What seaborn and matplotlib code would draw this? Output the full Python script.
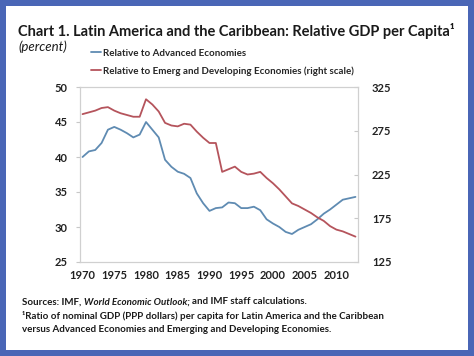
import numpy as np
import pandas as pd
import matplotlib
matplotlib.use("Agg")
import matplotlib.pyplot as plt
from matplotlib.patches import Rectangle
from matplotlib.lines import Line2D
from matplotlib.transforms import offset_copy
import seaborn as sns

sns.set_style("white")
plt.rcParams['font.family'] = ['Lato', 'DejaVu Sans']

years = list(range(1970, 2014))

# relative to advanced economies (left scale, percent)
adv = [40.0, 40.8, 41.0, 42.0, 43.9, 44.3, 43.9, 43.4, 42.8, 43.2,
       45.0, 43.9, 42.8, 39.6, 38.6, 37.9, 37.6, 37.0, 34.8, 33.4,
       32.3, 32.7, 32.8, 33.5, 33.4, 32.7, 32.7, 32.9, 32.4, 31.1,
       30.5, 30.0, 29.3, 29.0, 29.6, 30.0, 30.4, 31.1, 31.9, 32.5,
       33.2, 33.9, 34.1, 34.3]

# relative to emerging and developing economies (right scale, percent)
emdev = [294, 296, 298, 301, 302, 298, 295, 293, 291, 291,
         311, 305, 297, 284, 281, 280, 283, 282, 274, 267,
         261, 261, 228, 231, 234, 228, 225, 226, 228, 221,
         215, 208, 200, 192, 189, 185, 181, 176, 172, 166,
         162, 160, 157, 154]

left_ticks = [25, 30, 35, 40, 45, 50]
right_ticks = [125, 175, 225, 275, 325]
x_ticks = [1970, 1975, 1980, 1985, 1990, 1995, 2000, 2005, 2010]

df = pd.DataFrame({'year': years, 'adv': adv, 'emdev': emdev})

blue = '#5f8bb2'
red = '#b5545c'

fig = plt.figure(figsize=(4.74, 3.56), dpi=100)
fig.patch.set_facecolor('#4a66b6')
fig.add_artist(Rectangle((6 / 474, 6 / 356), 462 / 474, 344 / 356,
                         transform=fig.transFigure, facecolor='white',
                         edgecolor='none', zorder=-5))

ax = fig.add_axes([80 / 474, 94 / 356, 278 / 474, 175 / 356])
ax2 = ax.twinx()

sns.lineplot(data=df, x='year', y='adv', ax=ax, color=blue, linewidth=1.3)
sns.lineplot(data=df, x='year', y='emdev', ax=ax2, color=red, linewidth=1.3)

ax.set_xlim(1969.6, 2013.4)
ax.set_ylim(25, 50)
ax2.set_ylim(125, 325)
ax.set_yticks(left_ticks)
ax2.set_yticks(right_ticks)
ax.set_xticks(x_ticks)
ax.set_xticks(years, minor=True)
ax.set_xlabel('')
ax.set_ylabel('')
ax2.set_ylabel('')

for a in (ax, ax2):
    for s in a.spines.values():
        s.set_color('#d0d0d0')
        s.set_linewidth(0.8)

ax.tick_params(axis='x', which='both', direction='in', length=3,
               color='#c8c8c8', pad=6)
ax.tick_params(axis='y', direction='out', length=3, color='#c8c8c8', pad=6)
ax2.tick_params(axis='y', direction='in', length=3, color='#c8c8c8', pad=10)
for lab in ax.get_xticklabels() + ax.get_yticklabels() + ax2.get_yticklabels():
    lab.set_fontsize(8)
    lab.set_fontweight('bold')
    lab.set_color('#222222')

# title
fig.text(18 / 474, 1 - 31 / 356,
         'Chart 1. Latin America and the Caribbean: Relative GDP per Capita\u00b9',
         fontsize=10.5, fontweight='bold', va='center', ha='left', color='#1a1a1a')
fig.text(18 / 474, 1 - 47 / 356, '(percent)', fontsize=9.5, style='italic',
         va='center', ha='left', color='#1a1a1a')

# legend
handles = [Line2D([], [], color=blue, linewidth=1.3),
           Line2D([], [], color=red, linewidth=1.3)]
labels = ['Relative to Advanced Economies',
          'Relative to Emerg and Developing Economies (right scale)']
fig.legend(handles, labels, loc='upper left',
           bbox_to_anchor=(86 / 474, 1 - 44 / 356), frameon=False,
           handlelength=1.0, handletextpad=0.25, labelspacing=0.85,
           borderpad=0, prop={'size': 7, 'weight': 'bold'})

# footnotes
foot = dict(fontsize=7, fontweight='bold', ha='left', va='center', color='#1a1a1a')
renderer = fig.canvas.get_renderer()
x0 = 22 / 474
y0 = 1 - 302 / 356
t1 = fig.text(x0, y0, 'Sources: IMF, ', **foot)
w1 = t1.get_window_extent(renderer).width
t2 = fig.text(x0, y0, 'World Economic Outlook; ', style='italic',
              transform=offset_copy(fig.transFigure, fig=fig, x=w1, units='dots'),
              **foot)
w2 = t2.get_window_extent(renderer).width
fig.text(x0, y0, 'and IMF staff calculations.',
         transform=offset_copy(fig.transFigure, fig=fig, x=w1 + w2, units='dots'),
         **foot)
fig.text(x0, 1 - 316 / 356,
         '\u00b9Ratio of nominal GDP (PPP dollars) per capita for Latin America and the Caribbean',
         **foot)
fig.text(x0, 1 - 330 / 356,
         'versus Advanced Economies and Emerging and Developing Economies.',
         **foot)

fig.savefig('out.png', dpi=100)
